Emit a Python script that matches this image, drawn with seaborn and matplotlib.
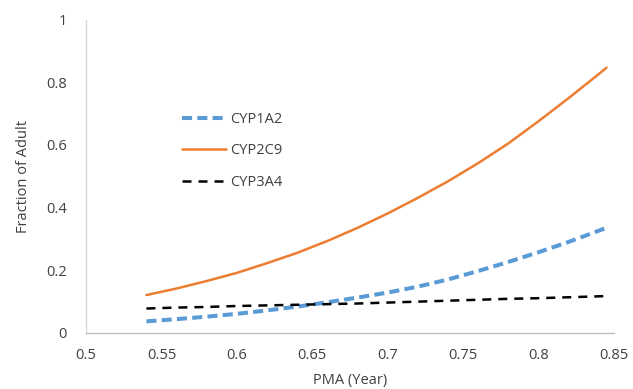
import matplotlib
matplotlib.use("Agg")
import matplotlib.pyplot as plt
import seaborn as sns
import pandas as pd

# Postmenstrual age (years) and enzyme activity as a fraction of adult level
pma = [0.54, 0.56, 0.58, 0.60, 0.62, 0.64, 0.66, 0.68, 0.70, 0.72,
       0.74, 0.76, 0.78, 0.80, 0.82, 0.84, 0.845]
cyp1a2 = [0.036, 0.043, 0.051, 0.060, 0.071, 0.083, 0.097, 0.112, 0.128, 0.147,
          0.170, 0.197, 0.226, 0.257, 0.290, 0.326, 0.335]
cyp2c9 = [0.120, 0.141, 0.165, 0.191, 0.222, 0.255, 0.293, 0.335, 0.381, 0.431,
          0.484, 0.542, 0.605, 0.676, 0.750, 0.827, 0.847]
cyp3a4 = [0.077, 0.080, 0.082, 0.085, 0.087, 0.089, 0.091, 0.093, 0.096, 0.099,
          0.102, 0.105, 0.108, 0.110, 0.113, 0.116, 0.117]

x_ticks = [0.5, 0.55, 0.6, 0.65, 0.7, 0.75, 0.8, 0.85]
x_tick_labels = ["0.5", "0.55", "0.6", "0.65", "0.7", "0.75", "0.8", "0.85"]
y_ticks = [0, 0.2, 0.4, 0.6, 0.8, 1.0]
y_tick_labels = ["0", "0.2", "0.4", "0.6", "0.8", "1"]

sns.set_theme(style="white")
plt.rcParams["font.family"] = ["Open Sans", "DejaVu Sans"]

fig = plt.figure(figsize=(6.33, 3.89), dpi=100)
ax = fig.add_axes([0.136, 0.145, 0.834, 0.804])

series = [
    ("CYP1A2", cyp1a2, "#5B9BD5", 2.9, (0, (2.5, 1.3))),
    ("CYP2C9", cyp2c9, "#ED7D31", 1.8, "-"),
    ("CYP3A4", cyp3a4, "#000000", 1.8, (0, (3.6, 2.8))),
]
for name, vals, color, lw, ls in series:
    df = pd.DataFrame({"PMA": pma, "frac": vals})
    sns.lineplot(data=df, x="PMA", y="frac", ax=ax, color=color,
                 linewidth=lw, linestyle=ls, label=name)

ax.set_xlim(0.5, 0.85)
ax.set_ylim(0, 1)
ax.set_xticks(x_ticks)
ax.set_xticklabels(x_tick_labels)
ax.set_yticks(y_ticks)
ax.set_yticklabels(y_tick_labels)
ax.tick_params(axis="both", length=0, labelsize=10.5, colors="#404040")
ax.tick_params(axis="y", pad=14)
ax.tick_params(axis="x", pad=11)

ax.set_xlabel("PMA (Year)", fontsize=10.5, color="#404040", labelpad=7)
ax.set_ylabel("Fraction of Adult", fontsize=10.5, color="#404040", labelpad=11)

for side in ["top", "right"]:
    ax.spines[side].set_visible(False)
ax.spines["left"].set_color("#D9D9D9")
ax.spines["bottom"].set_color("#BFBFBF")
ax.spines["left"].set_linewidth(1.0)
ax.spines["bottom"].set_linewidth(1.0)

leg = ax.legend(loc="upper left", bbox_to_anchor=(0.171, 0.725), frameon=False,
                fontsize=10.5, handlelength=3.0, handletextpad=0.3,
                labelspacing=1.15, borderaxespad=0)
for t in leg.get_texts():
    t.set_color("#404040")

fig.savefig("out.png", dpi=100)
